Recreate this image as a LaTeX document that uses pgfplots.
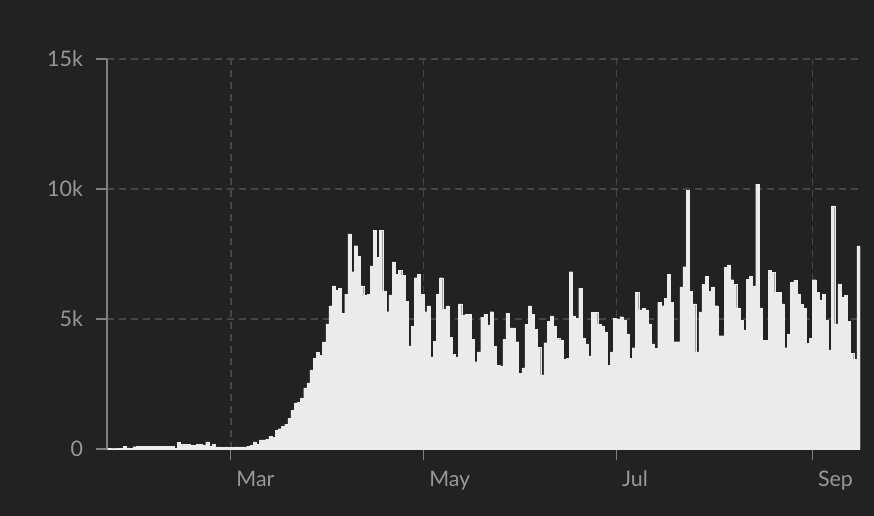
\documentclass[border=0pt]{standalone}
\usepackage{fontspec}
\setmainfont{Lato}
\usepackage{pgfplots}
\usepackage{pgfplotstable}
\pgfplotsset{compat=1.18}
\definecolor{bg}{RGB}{34,34,34}
\definecolor{barc}{RGB}{235,235,235}
\definecolor{gridc}{RGB}{70,70,70}
\definecolor{tickc}{RGB}{152,152,152}
\definecolor{yaxc}{RGB}{128,128,128}
\definecolor{xaxc}{RGB}{200,200,200}

\pgfplotstableread[row sep=\\]{
d v\\
22 17\\ 23 5\\ 24 10\\ 25 16\\ 26 20\\ 27 110\\ 28 45\\ 29 30\\ 30 90\\ 31 95\\
32 95\\ 33 95\\ 34 100\\ 35 100\\ 36 100\\ 37 100\\ 38 100\\ 39 100\\ 40 100\\ 41 100\\
42 95\\ 43 20\\ 44 260\\ 45 190\\ 46 170\\ 47 180\\ 48 150\\ 49 140\\ 50 190\\ 51 180\\
52 150\\ 53 270\\ 54 110\\ 55 190\\ 56 80\\ 57 80\\ 58 70\\ 59 80\\ 60 70\\ 61 70\\
62 80\\ 63 80\\ 64 85\\ 65 80\\ 66 100\\ 67 150\\ 68 270\\ 69 200\\ 70 350\\ 71 350\\
72 380\\ 73 500\\ 74 450\\ 75 730\\ 76 780\\ 77 880\\ 78 960\\ 79 1190\\ 80 1500\\ 81 1770\\
82 1800\\ 83 1960\\ 84 2350\\ 85 2540\\ 86 3040\\ 87 3500\\ 88 3730\\ 89 3600\\ 90 4120\\ 91 4810\\
92 5500\\ 93 6270\\ 94 6100\\ 95 6190\\ 96 5230\\ 97 5960\\ 98 8270\\ 99 6820\\ 100 7820\\ 101 7420\\
102 6270\\ 103 5920\\ 104 5950\\ 105 7040\\ 106 8420\\ 107 7370\\ 108 8420\\ 109 6080\\ 110 5280\\ 111 5930\\
112 7200\\ 113 6720\\ 114 6880\\ 115 6690\\ 116 5670\\ 117 3970\\ 118 4730\\ 119 6590\\ 120 6720\\ 121 5950\\
122 5280\\ 123 5500\\ 124 3540\\ 125 4150\\ 126 5950\\ 127 6590\\ 128 5370\\ 129 5500\\ 130 4300\\ 131 3650\\
132 3540\\ 133 5580\\ 134 5150\\ 135 5190\\ 136 5190\\ 137 4230\\ 138 3360\\ 139 3740\\ 140 5070\\ 141 5190\\
142 4770\\ 143 5280\\ 144 3960\\ 145 3230\\ 146 3190\\ 147 4230\\ 148 5230\\ 149 4660\\ 150 4660\\ 151 4130\\
152 2920\\ 153 3120\\ 154 4790\\ 155 5500\\ 156 5190\\ 157 4600\\ 158 3910\\ 159 2850\\ 160 4090\\ 161 4910\\
162 5120\\ 163 4730\\ 164 4260\\ 165 4190\\ 166 3450\\ 167 3490\\ 168 6820\\ 169 5120\\ 170 5030\\ 171 6180\\
172 4260\\ 173 4040\\ 174 3580\\ 175 5260\\ 176 5260\\ 177 4800\\ 178 4710\\ 179 4500\\ 180 3210\\ 181 3740\\
182 5030\\ 183 5000\\ 184 5090\\ 185 4940\\ 186 4430\\ 187 3490\\ 188 3900\\ 189 6030\\ 190 5350\\ 191 5410\\
192 5350\\ 193 4810\\ 194 4040\\ 195 3880\\ 196 5640\\ 197 5510\\ 198 5800\\ 199 6730\\ 200 5640\\ 201 4130\\
202 4130\\ 203 6240\\ 204 7010\\ 205 9960\\ 206 6060\\ 207 5580\\ 208 3740\\ 209 5270\\ 210 6340\\ 211 6650\\
212 6060\\ 213 6240\\ 214 5510\\ 215 4360\\ 216 4360\\ 217 6990\\ 218 7080\\ 219 6510\\ 220 6340\\ 221 5430\\
222 4960\\ 223 4580\\ 224 6530\\ 225 6650\\ 226 6270\\ 227 10190\\ 228 5430\\ 229 4190\\ 230 4190\\ 231 6880\\
232 6800\\ 233 6030\\ 234 6030\\ 235 5580\\ 236 3900\\ 237 4420\\ 238 6410\\ 239 6480\\ 240 5970\\ 241 5560\\
242 5400\\ 243 4060\\ 244 4250\\ 245 6510\\ 246 6030\\ 247 5740\\ 248 5970\\ 249 4960\\ 250 3810\\ 251 9350\\
252 4810\\ 253 6350\\ 254 5830\\ 255 5900\\ 256 4900\\ 257 3680\\ 258 3450\\ 259 7810\\
}\deaths

\begin{document}
\begin{tikzpicture}
\fill[bg] (-107bp,-67bp) rectangle (767bp,449bp);
\begin{axis}[
  at={(0,0)}, anchor=south west,
  scale only axis, width=753bp, height=390bp,
  xmin=-39.2, xmax=199, ymin=0, ymax=15000,
  axis x line*=bottom, axis y line*=left,
  x axis line style={-, draw=xaxc, line width=1.6bp},
  y axis line style={-, draw=yaxc, line width=1.2bp},
  xtick={0,61,122,184}, xticklabels={Mar,May,Jul,Sep},
  ytick={0,5000,10000,15000}, yticklabels={0,5k,10k,15k},
  scaled y ticks=false,
  tick align=outside, major tick length=10.5bp,
  every tick/.style={draw=yaxc, line width=1.1bp},
  grid=major,
  major grid style={draw=gridc, line width=1.2bp, dash pattern=on 7bp off 5bp},
  tick label style={text=tickc, font=\fontsize{21.5}{25}\selectfont},
  xticklabel style={anchor=north west, xshift=2bp, yshift=-8bp},
  yticklabel style={anchor=east, xshift=-10bp},
]
\addplot[ybar, bar width=1, fill=barc, draw=barc, line width=0.2bp]
  table[x expr=\thisrow{d}-60.5, y=v]{\deaths};
\end{axis}
\end{tikzpicture}
\end{document}
